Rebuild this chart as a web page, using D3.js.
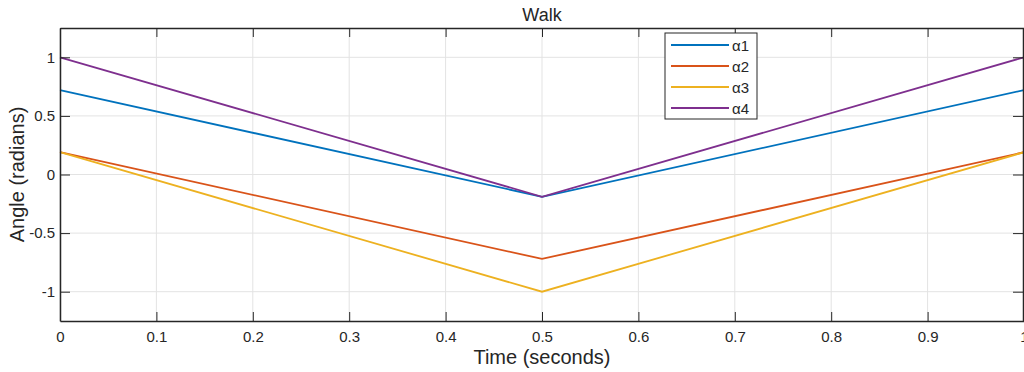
<!DOCTYPE html>
<html>
<head>
<meta charset="utf-8">
<script src="https://cdn.jsdelivr.net/npm/d3@7"></script>
<style>
  body { margin: 0; background: #fff; }
  svg { display: block; font-family: "Liberation Sans", Arial, sans-serif; }
  .grid line { stroke: #e3e3e3; stroke-width: 1; }
  .axis path, .axis line { stroke: #262626; }
  .axis text { fill: #262626; font-size: 15px; }
</style>
</head>
<body>
<svg id="chart" width="1024" height="372"></svg>
<script>
// data
const times = [0, 0.5, 1];
const alpha1 = [0.72, -0.19, 0.72];
const alpha2 = [0.19, -0.72, 0.19];
const alpha3 = [0.19, -1.0, 0.19];
const alpha4 = [1.0, -0.19, 1.0];
const seriesNames = ['α1', 'α2', 'α3', 'α4'];
const colors = ['#0072BD', '#D95319', '#EDB120', '#7E2F8E'];
const xTicks = [0, 0.1, 0.2, 0.3, 0.4, 0.5, 0.6, 0.7, 0.8, 0.9, 1];
const yTicks = [-1, -0.5, 0, 0.5, 1];

const series = [alpha1, alpha2, alpha3, alpha4];

const svg = d3.select('#chart');
const margin = { left: 60, right: 0, top: 28, bottom: 51 };
const width = 1024, height = 372;
const innerWidth = width - margin.left - margin.right;
const innerHeight = height - margin.top - margin.bottom;

const x = d3.scaleLinear().domain([0, 1]).range([0, innerWidth]);
const y = d3.scaleLinear().domain([-1.25, 1.25]).range([innerHeight, 0]);

const g = svg.append('g').attr('transform', `translate(${margin.left}, ${margin.top})`);

// grid
const grid = g.append('g').attr('class', 'grid');
grid.selectAll('.gx').data(xTicks).enter().append('line')
    .attr('x1', (d) => x(d)).attr('x2', (d) => x(d))
    .attr('y1', 0).attr('y2', innerHeight);
grid.selectAll('.gy').data(yTicks).enter().append('line')
    .attr('x1', 0).attr('x2', innerWidth)
    .attr('y1', (d) => y(d)).attr('y2', (d) => y(d));

// lines
const line = d3.line().x((d, i) => x(times[i])).y((d) => y(d));
g.selectAll('.series').data(series).enter().append('path')
    .attr('fill', 'none')
    .attr('stroke', (d, i) => colors[i])
    .attr('stroke-width', 1.8)
    .attr('d', (d) => line(d));

// axes (MATLAB-style inward ticks on all four sides)
const fmt = (d) => String(d);   // plain hyphen minus, like the original
g.append('g').attr('class', 'axis')
    .attr('transform', `translate(0, ${innerHeight})`)
    .call(d3.axisBottom(x).tickValues(xTicks).tickFormat(fmt).tickSize(-9).tickSizeOuter(0).tickPadding(10));
g.append('g').attr('class', 'axis')
    .call(d3.axisLeft(y).tickValues(yTicks).tickFormat(fmt).tickSize(-10).tickSizeOuter(0).tickPadding(5));
const topAxis = g.append('g').attr('class', 'axis')
    .call(d3.axisTop(x).tickValues(xTicks).tickSize(-9).tickSizeOuter(0));
const rightAxis = g.append('g').attr('class', 'axis')
    .attr('transform', `translate(${innerWidth - 1}, 0)`)
    .call(d3.axisRight(y).tickValues(yTicks).tickSize(-10).tickSizeOuter(0));
// top and right ticks carry no labels
topAxis.selectAll('text').remove();
rightAxis.selectAll('text').remove();
g.selectAll('.axis path').attr('stroke-width', 1.5);

// title and labels
svg.append('text').attr('x', margin.left + innerWidth / 2).attr('y', 21)
    .attr('text-anchor', 'middle').attr('font-size', 18).attr('fill', '#262626').text('Walk');
svg.append('text').attr('x', margin.left + innerWidth / 2).attr('y', 364)
    .attr('text-anchor', 'middle').attr('font-size', 20).attr('fill', '#262626').text('Time (seconds)');
svg.append('text').attr('transform', `translate(24, ${margin.top + innerHeight / 2}) rotate(-90)`)
    .attr('text-anchor', 'middle').attr('font-size', 20).attr('fill', '#262626').text('Angle (radians)');

// legend
const legend = svg.append('g').attr('transform', 'translate(665, 33)');
legend.append('rect').attr('width', 92).attr('height', 86)
    .attr('fill', '#fff').attr('stroke', '#262626').attr('stroke-width', 1);
const items = legend.selectAll('.item').data(seriesNames).enter().append('g')
    .attr('transform', (d, i) => `translate(0, ${12 + i * 21})`);
items.append('line').attr('x1', 6).attr('x2', 64).attr('y1', 0).attr('y2', 0)
    .attr('stroke', (d, i) => colors[i]).attr('stroke-width', 1.8);
items.append('text').attr('x', 67).attr('y', 5.5).attr('font-size', 15)
    .attr('fill', '#262626').text((d) => d);
</script>
</body>
</html>
